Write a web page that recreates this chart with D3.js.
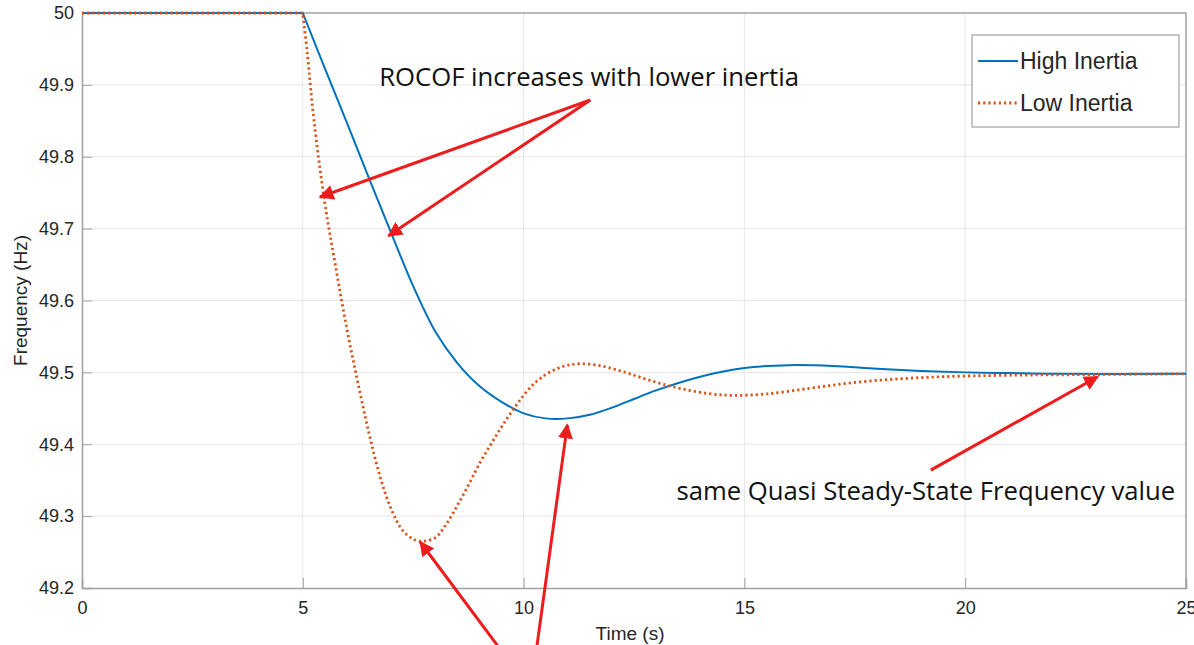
<!DOCTYPE html>
<html>
<head>
<meta charset="utf-8">
<script src="https://cdn.jsdelivr.net/npm/d3@7"></script>
<style>
  body { margin: 0; background: #fff; }
  svg { display: block; }
</style>
</head>
<body>
<script>
var width = 1194
var height = 645
var margin = {top: 13, right: 8, bottom: 57, left: 82}

// data
var highTime = [0, 5, 5.5, 6, 6.5, 7, 7.5, 8, 8.5, 9, 9.5, 10, 10.5, 11, 11.5, 12, 12.5, 13, 14, 15, 16, 17, 18, 19, 20, 21, 22, 25]
var highFreq = [50, 50, 49.923, 49.847, 49.770, 49.694, 49.620, 49.557, 49.513, 49.481, 49.459, 49.443, 49.436, 49.436, 49.441, 49.451, 49.463, 49.475, 49.494, 49.506, 49.510, 49.509, 49.505, 49.502, 49.500, 49.499, 49.498, 49.498]

var lowTime = [0, 5, 5.1, 5.25, 5.5, 5.75, 6, 6.25, 6.5, 6.75, 7, 7.25, 7.5, 7.7, 8, 8.25, 8.5, 8.75, 9, 9.25, 9.5, 9.75, 10, 10.25, 10.5, 10.75, 11, 11.3, 11.75, 12.25, 12.75, 13.25, 13.75, 14.25, 14.75, 15.5, 16.5, 17.5, 18.5, 19.5, 21, 23, 25]
var lowFreq = [50, 50, 49.945, 49.852, 49.735, 49.645, 49.56, 49.485, 49.415, 49.355, 49.31, 49.281, 49.268, 49.265, 49.270, 49.289, 49.315, 49.343, 49.373, 49.399, 49.424, 49.447, 49.468, 49.485, 49.497, 49.505, 49.510, 49.512, 49.509, 49.501, 49.491, 49.482, 49.475, 49.470, 49.468, 49.470, 49.478, 49.486, 49.491, 49.494, 49.496, 49.497, 49.498]

var xTicks = [0, 5, 10, 15, 20, 25]
var yTicks = [49.2, 49.3, 49.4, 49.5, 49.6, 49.7, 49.8, 49.9, 50]
var seriesNames = ['High Inertia', 'Low Inertia']
var seriesColors = ['#0072BD', '#D95319']

// annotation arrows in data units: [fromT, fromF, toT, toF]
var arrows = [
  [11.51, 49.879, 5.39, 49.744],
  [11.51, 49.879, 6.94, 49.690],
  [19.22, 49.364, 23.0, 49.494],
  [9.59, 49.105, 7.66, 49.264],
  [10.27, 49.105, 10.99, 49.427]
]
var notes = [
  {text: 'ROCOF increases with lower inertia', t: 6.73, f: 49.898},
  {text: 'same Quasi Steady-State Frequency value', t: 13.46, f: 49.322}
]

var svg = d3.select('body').append('svg')
    .attr('width', width)
    .attr('height', height)

var x = d3.scaleLinear().domain([0, 25]).range([margin.left, width - margin.right])
var y = d3.scaleLinear().domain([49.2, 50]).range([height - margin.bottom, margin.top])

// grid
svg.append('g').selectAll('line')
    .data(xTicks.slice(1, -1))
  .enter().append('line')
    .attr('x1', function (d) { return x(d) })
    .attr('x2', function (d) { return x(d) })
    .attr('y1', y(49.2))
    .attr('y2', y(50))
    .style('stroke', '#e6e6e6')
svg.append('g').selectAll('line')
    .data(yTicks.slice(1, -1))
  .enter().append('line')
    .attr('y1', function (d) { return y(d) })
    .attr('y2', function (d) { return y(d) })
    .attr('x1', x(0))
    .attr('x2', x(25))
    .style('stroke', '#e6e6e6')

// axes
var xAxis = svg.append('g')
    .attr('transform', 'translate(0,' + y(49.2) + ')')
    .call(d3.axisBottom(x).tickValues(xTicks).tickSize(-10).tickPadding(22).tickFormat(d3.format('d')))
var yAxis = svg.append('g')
    .attr('transform', 'translate(' + x(0) + ',0)')
    .call(d3.axisLeft(y).tickValues(yTicks).tickSize(-10).tickPadding(8).tickFormat(function (d) { return d === 50 ? '50' : d3.format('.1f')(d) }))

;[xAxis, yAxis].forEach(function (a) {
  a.select('.domain').style('stroke', '#a0a0a0').style('stroke-width', 1.5)
  a.selectAll('.tick line').style('stroke', '#a0a0a0')
  a.selectAll('.tick text')
      .style('font-family', 'Liberation Sans, Arial, sans-serif')
      .style('font-size', '18px')
      .style('fill', '#262626')
})
xAxis.selectAll('.tick text').attr('dy', '0.2em')

// right and top frame
svg.append('line')
    .attr('x1', x(25)).attr('x2', x(25)).attr('y1', y(49.2)).attr('y2', y(50))
    .style('stroke', '#a0a0a0').style('stroke-width', 1.5)
svg.append('line')
    .attr('x1', x(0)).attr('x2', x(25)).attr('y1', y(50)).attr('y2', y(50))
    .style('stroke', '#a0a0a0').style('stroke-width', 1.5)

// axis titles
svg.append('text')
    .attr('x', 630)
    .attr('y', 640)
    .attr('text-anchor', 'middle')
    .style('font-family', 'Liberation Sans, Arial, sans-serif')
    .style('font-size', '19px')
    .style('fill', '#262626')
    .text('Time (s)')
svg.append('text')
    .attr('transform', 'translate(27,' + y(49.6) + ') rotate(-90)')
    .attr('text-anchor', 'middle')
    .style('font-family', 'Liberation Sans, Arial, sans-serif')
    .style('font-size', '19px')
    .style('fill', '#262626')
    .text('Frequency (Hz)')

// lines: flat part before the event drawn straight, the response smoothed
var flat = d3.line()
    .x(function (d) { return x(d[0]) })
    .y(function (d) { return y(d[1]) })
var smooth = d3.line()
    .x(function (d) { return x(d[0]) })
    .y(function (d) { return y(d[1]) })
    .curve(d3.curveCatmullRom.alpha(0.5))

var series = [
  highTime.map(function (t, i) { return [t, highFreq[i]] }),
  lowTime.map(function (t, i) { return [t, lowFreq[i]] })
]

series.forEach(function (pts, i) {
  var d = flat(pts.filter(function (p) { return p[0] <= 5 })) +
      smooth(pts.filter(function (p) { return p[0] >= 5 })).replace(/^M[^LC]*/, 'L' + x(5) + ',' + y(50))
  svg.append('path')
      .attr('d', d)
      .style('fill', 'none')
      .style('stroke', seriesColors[i])
      .style('stroke-width', i === 0 ? 2 : 2.8)
      .style('stroke-dasharray', i === 0 ? null : '2.2,3')
})

// legend
var lg = svg.append('g')
lg.append('rect')
    .attr('x', 972).attr('y', 35).attr('width', 207).attr('height', 92)
    .style('fill', '#fff').style('stroke', '#a0a0a0').style('stroke-width', 1.2)
seriesNames.forEach(function (name, i) {
  var yy = 61 + i * 42
  lg.append('line')
      .attr('x1', 978).attr('x2', 1018).attr('y1', yy).attr('y2', yy)
      .style('stroke', seriesColors[i])
      .style('stroke-width', i === 0 ? 2 : 2.8)
      .style('stroke-dasharray', i === 0 ? null : '2.2,3')
  lg.append('text')
      .attr('x', 1020).attr('y', yy + 8)
      .style('font-family', 'Liberation Sans, Arial, sans-serif')
      .style('font-size', '23px')
      .style('fill', '#262626')
      .text(name)
})

// annotations
svg.append('defs').append('marker')
    .attr('id', 'head')
    .attr('viewBox', '0 0 10 10')
    .attr('refX', 9).attr('refY', 5)
    .attr('markerWidth', 5).attr('markerHeight', 5)
    .attr('orient', 'auto')
  .append('path')
    .attr('d', 'M0,0L10,5L0,10z')
    .style('fill', '#ee1c1c')

svg.append('g').selectAll('line')
    .data(arrows)
  .enter().append('line')
    .attr('x1', function (d) { return x(d[0]) })
    .attr('y1', function (d) { return y(d[1]) })
    .attr('x2', function (d) { return x(d[2]) })
    .attr('y2', function (d) { return y(d[3]) })
    .attr('marker-end', 'url(#head)')
    .style('stroke', '#ee1c1c')
    .style('stroke-width', 3)

svg.append('g').selectAll('text')
    .data(notes)
  .enter().append('text')
    .attr('x', function (d) { return x(d.t) })
    .attr('y', function (d) { return y(d.f) })
    .style('font-family', 'Open Sans, sans-serif')
    .style('font-size', '25.7px')
    .style('fill', '#111')
    .text(function (d) { return d.text })
</script>
</body>
</html>
